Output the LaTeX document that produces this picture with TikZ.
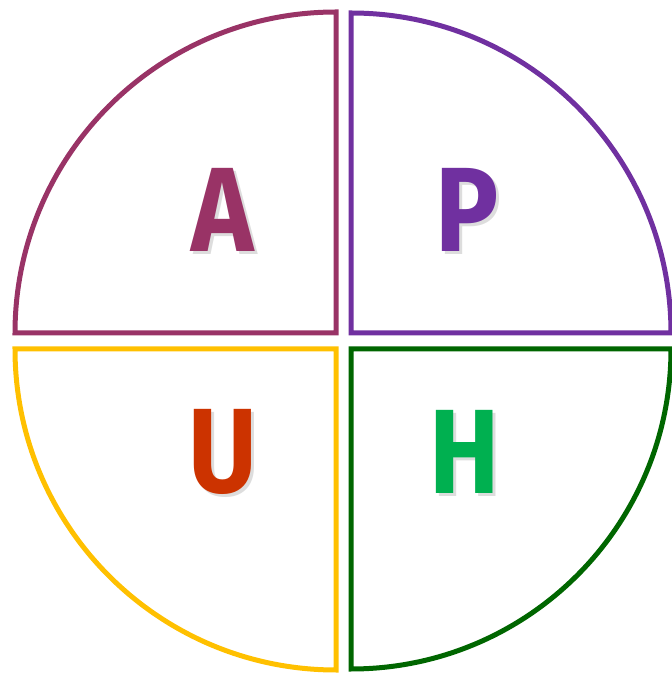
\documentclass[tikz,border=0pt]{standalone}
\usepackage{fontspec}
\usepackage{tikz}
\usetikzlibrary{
    positioning,
    calc
}
\newfontfamily\letterfont{Fira Sans}
\definecolor{QuadPlum}{RGB}{153,51,102}
\definecolor{QuadViolet}{RGB}{112,48,160}
\definecolor{QuadAmber}{RGB}{255,192,0}
\definecolor{QuadRust}{RGB}{204,51,0}
\definecolor{QuadForest}{RGB}{0,102,0}
\definecolor{QuadLeaf}{RGB}{0,176,80}

\begin{document}
\begin{tikzpicture}[
    x=1pt,
    y=1pt,
    quadrant/.style={line width=5pt},
    letter/.style={font=\letterfont\bfseries\fontsize{120}{120}\selectfont,
        inner sep=0pt, xscale=0.88},
    shade/.style={letter, text=black!22, opacity=0.6}
]

% Frame
\useasboundingbox (0,0) rectangle (672,675);

% Quadrants
\draw[quadrant, QuadPlum]
    (336,342) -- (15,342)
    arc[start angle=180, end angle=90, radius=321] -- cycle;

\draw[quadrant, QuadViolet]
    (351,342) -- (351,662)
    arc[start angle=90, end angle=0, radius=320] -- cycle;

\draw[quadrant, QuadAmber]
    (336,326) -- (15,326)
    arc[start angle=180, end angle=270, radius=321] -- cycle;

\draw[quadrant, QuadForest]
    (351,326) -- (671,326)
    arc[start angle=0, end angle=-90, radius=320] -- cycle;

% Shadows
\node[shade] at (226,462) {A};
\node[shade] at (470,462) {P};
\node[shade] at (226,220) {U};
\node[shade] at (468,220) {H};

% Letters
\node[letter, text=QuadPlum] (a) at (223,465) {A};
\node[letter, text=QuadViolet] (p) at (467,465) {P};
\node[letter, text=QuadRust] (u) at (223,223) {U};
\node[letter, text=QuadLeaf] (h) at (465,223) {H};

\end{tikzpicture}
\end{document}
